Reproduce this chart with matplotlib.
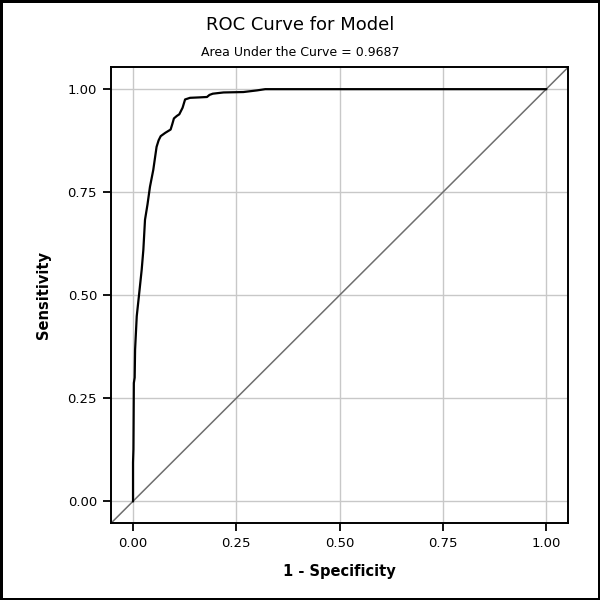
import matplotlib
matplotlib.use("Agg")
import matplotlib.pyplot as plt

# ROC points (1 - specificity, sensitivity)
fpr = [0.0, 0.0, 0.001, 0.002, 0.004, 0.005, 0.009, 0.015, 0.021, 0.025,
       0.029, 0.035, 0.041, 0.049, 0.057, 0.062, 0.067, 0.078, 0.091, 0.095,
       0.099, 0.106, 0.112, 0.120, 0.126, 0.138, 0.160, 0.179, 0.185, 0.193,
       0.219, 0.267, 0.300, 0.320, 1.0]
tpr = [0.0, 0.094, 0.126, 0.287, 0.300, 0.368, 0.449, 0.505, 0.562, 0.610,
       0.683, 0.720, 0.763, 0.804, 0.860, 0.876, 0.886, 0.894, 0.902, 0.915,
       0.929, 0.935, 0.939, 0.955, 0.975, 0.979, 0.980, 0.981, 0.986, 0.989,
       0.992, 0.993, 0.997, 1.0, 1.0]
ticks = [0.0, 0.25, 0.5, 0.75, 1.0]
tick_labels = ["0.00", "0.25", "0.50", "0.75", "1.00"]
auc = 0.9687

plt.rcParams["font.family"] = ["DejaVu Sans"]
fig = plt.figure(figsize=(6, 6), dpi=100)
fig.patch.set_edgecolor("black"); fig.patch.set_linewidth(2.5)
ax = fig.add_axes([0.185, 0.128, 0.762, 0.760])

m = 0.0533
ax.set_xlim(-m, 1 + m); ax.set_ylim(-m, 1 + m)
ax.plot([-m, 1 + m], [-m, 1 + m], color="#6e6e6e", lw=1.1, zorder=2)
ax.plot(fpr, tpr, color="black", lw=1.6, zorder=3)

ax.set_xticks(ticks); ax.set_xticklabels(tick_labels)
ax.set_yticks(ticks); ax.set_yticklabels(tick_labels)
ax.grid(True, color="#c8c8c8", lw=1.0, zorder=0)
ax.set_axisbelow(True)
for s in ax.spines.values():
    s.set_linewidth(1.4)
ax.tick_params(direction="out", length=6, width=1.3, labelsize=9.5, pad=4)

ax.set_xlabel("1 - Specificity", fontsize=10.5, fontweight="bold", labelpad=10)
ax.set_ylabel("Sensitivity", fontsize=10.5, fontweight="bold", labelpad=12)

fig.text(0.5, 0.958, "ROC Curve for Model", ha="center", va="center", fontsize=13)
fig.text(0.5, 0.913, f"Area Under the Curve = {auc:.4f}", ha="center", va="center",
         fontsize=9)

fig.savefig("out.png", dpi=100, edgecolor=fig.get_edgecolor())
